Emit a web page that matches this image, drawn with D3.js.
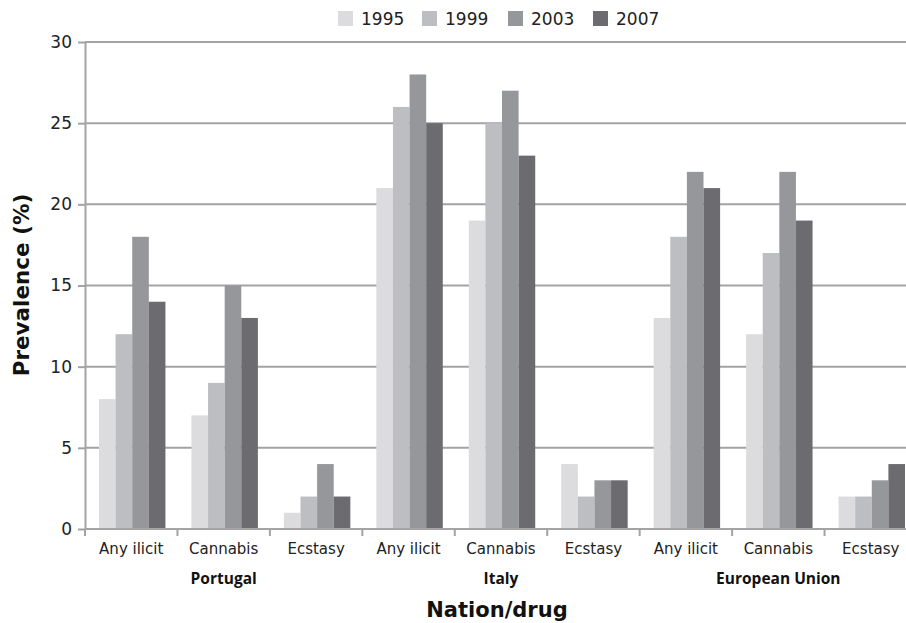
<!DOCTYPE html>
<html>
<head>
<meta charset="utf-8">
<script src="https://cdn.jsdelivr.net/npm/d3@7"></script>
<style>
  body { margin: 0; background: #fff; overflow: hidden; }
  svg { display: block; }
</style>
</head>
<body>
<div id="chart"></div>
<script>
// data
const nations = ["Portugal", "Italy", "European Union"];
const drugs = ["Any ilicit", "Cannabis", "Ecstasy"];
const years = ["1995", "1999", "2003", "2007"];
const yTicks = [0, 5, 10, 15, 20, 25, 30];

// one row per nation/drug, values in year order
const portugal = [[8, 12, 18, 14], [7, 9, 15, 13], [1, 2, 4, 2]];
const italy = [[21, 26, 28, 25], [19, 25, 27, 23], [4, 2, 3, 3]];
const europe = [[13, 18, 22, 21], [12, 17, 22, 19], [2, 2, 3, 4]];

const colors = ["#dcdcde", "#bdbec1", "#96979b", "#6c6c70"];

const width = 906, height = 623;
const margin = { top: 42, left: 85, bottom: 94 };
const plotRight = 917; // plot runs a little past the picture edge
const innerHeight = height - margin.top - margin.bottom;

const rows = [];
[portugal, italy, europe].forEach((set, n) => {
  set.forEach((vals, d) => {
    rows.push({ key: n + "-" + d, nation: nations[n], drug: drugs[d], vals });
  });
});

const svg = d3.select("#chart").append("svg")
  .attr("width", width)
  .attr("height", height);

const g = svg.append("g")
  .attr("transform", `translate(${margin.left},${margin.top})`);

const x0 = d3.scaleBand()
  .domain(rows.map(d => d.key))
  .range([0, plotRight - margin.left]);

const x1 = d3.scaleBand()
  .domain(years)
  .range([14, x0.bandwidth() - 12]);

const y = d3.scaleLinear()
  .domain([0, 30])
  .range([innerHeight, 0]);

// gridlines
g.append("g")
  .selectAll("line")
  .data(yTicks)
  .join("line")
  .attr("x1", 0)
  .attr("x2", width - margin.left)
  .attr("y1", d => y(d))
  .attr("y2", d => y(d))
  .attr("stroke", "#a3a3a6")
  .attr("stroke-width", 2);

// y axis
const yAxis = g.append("g")
  .call(d3.axisLeft(y).tickValues(yTicks).tickSize(7).tickSizeOuter(0).tickPadding(6));
yAxis.select(".domain").attr("stroke", "#a3a3a6").attr("stroke-width", 2);
yAxis.selectAll(".tick line").attr("stroke", "#a3a3a6").attr("stroke-width", 2);
yAxis.selectAll("text")
  .style("font-family", "DejaVu Sans, Verdana, sans-serif")
  .style("font-size", "17px")
  .attr("fill", "#222");

// bars
const groups = g.selectAll(".cat")
  .data(rows)
  .join("g")
  .attr("class", "cat")
  .attr("transform", d => `translate(${x0(d.key)},0)`);

groups.selectAll("rect")
  .data(d => d.vals.map((v, i) => ({ year: years[i], v, i })))
  .join("rect")
  .attr("x", d => x1(d.year))
  .attr("y", d => y(d.v))
  .attr("width", x1.bandwidth())
  .attr("height", d => y(0) - y(d.v))
  .attr("fill", d => colors[d.i]);

// x axis
const xAxis = g.append("g")
  .attr("transform", `translate(0,${innerHeight})`);
xAxis.append("line")
  .attr("x1", 0).attr("x2", width - margin.left)
  .attr("stroke", "#a3a3a6").attr("stroke-width", 2);
xAxis.selectAll(".xt")
  .data(rows)
  .join("line")
  .attr("class", "xt")
  .attr("x1", d => x0(d.key))
  .attr("x2", d => x0(d.key))
  .attr("y1", 0).attr("y2", 7)
  .attr("stroke", "#a3a3a6").attr("stroke-width", 2);
xAxis.selectAll(".xl")
  .data(rows)
  .join("text")
  .attr("class", "xl")
  .attr("x", d => Math.min(x0(d.key) + x0.bandwidth() / 2, width - 36))
  .attr("y", 25)
  .attr("text-anchor", "middle")
  .style("font-family", "DejaVu Sans, Verdana, sans-serif")
  .style("font-size", "15px")
  .attr("fill", "#222")
  .text(d => d.drug);

// nation labels
xAxis.selectAll(".nl")
  .data(nations)
  .join("text")
  .attr("class", "nl")
  .attr("x", (d, i) => x0(i + "-1") + x0.bandwidth() / 2)
  .attr("y", 55)
  .attr("text-anchor", "middle")
  .style("font-family", "Open Sans, sans-serif")
  .style("font-weight", "bold")
  .style("font-size", "15.5px")
  .attr("fill", "#111")
  .text(d => d);

// axis titles
svg.append("text")
  .attr("x", 497)
  .attr("y", 617)
  .attr("text-anchor", "middle")
  .style("font-family", "DejaVu Sans, Verdana, sans-serif")
  .style("font-weight", "bold")
  .style("font-size", "21px")
  .attr("fill", "#111")
  .text("Nation/drug");

svg.append("text")
  .attr("transform", `translate(29,285) rotate(-90)`)
  .attr("text-anchor", "middle")
  .style("font-family", "DejaVu Sans, Verdana, sans-serif")
  .style("font-weight", "bold")
  .style("font-size", "21.5px")
  .attr("fill", "#111")
  .text("Prevalence (%)");

// legend
const legendX = [338, 422, 508, 593];
const legend = svg.append("g");
years.forEach((yr, i) => {
  const lg = legend.append("g")
    .attr("transform", `translate(${legendX[i]},11)`);
  lg.append("rect")
    .attr("width", 15)
    .attr("height", 15)
    .attr("fill", colors[i]);
  lg.append("text")
    .attr("x", 23)
    .attr("y", 14)
    .style("font-family", "DejaVu Sans, Verdana, sans-serif")
    .style("font-size", "17px")
    .attr("fill", "#222")
    .text(yr);
});
</script>
</body>
</html>
